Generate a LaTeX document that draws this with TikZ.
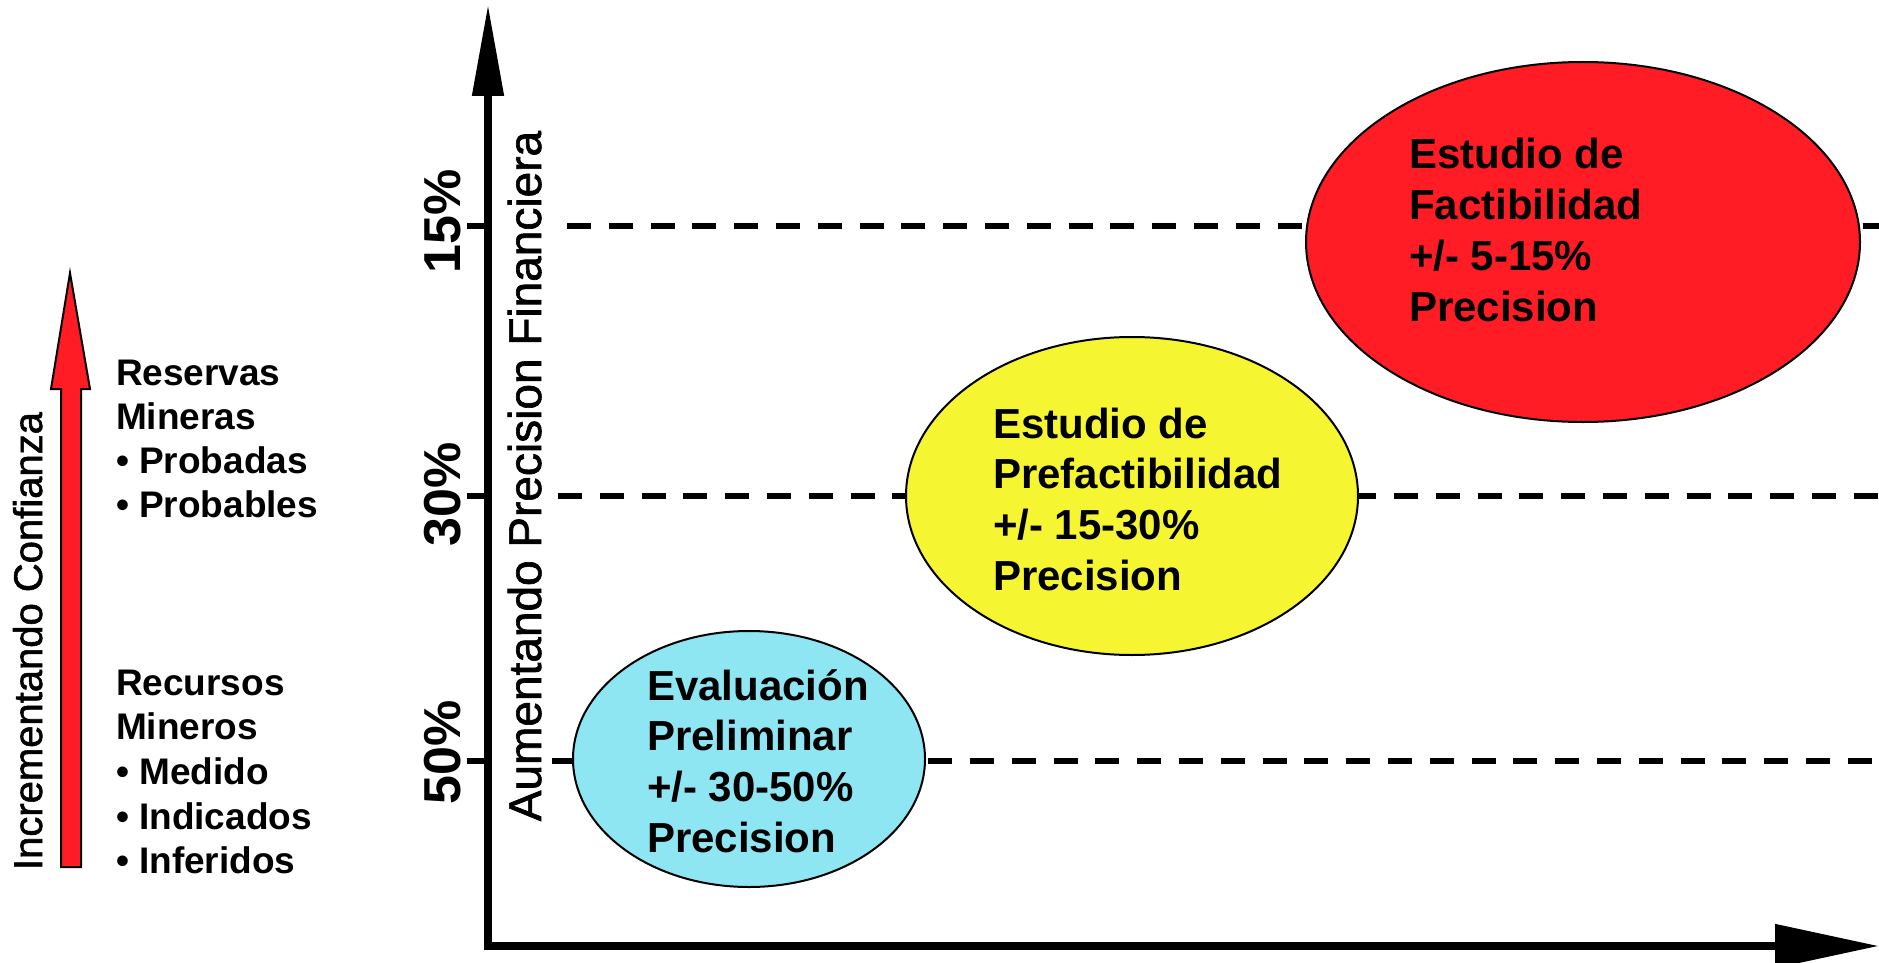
\documentclass[tikz,border=0pt]{standalone}
\usepackage{fontspec}
\setmainfont{Liberation Sans}
\newfontfamily\medsans[FakeBold=1.4]{Liberation Sans}
\usetikzlibrary{arrows.meta,shapes.geometric}
\definecolor{cred}{HTML}{FF1C24}
\definecolor{cyel}{HTML}{F5F532}
\definecolor{ccyan}{HTML}{8DE6F2}
\begin{document}
\begin{tikzpicture}[x=1pt,y=-1pt,
  every node/.style={inner sep=0pt, outer sep=0pt},
  elltxt/.style={font=\fontsize{42}{50}\selectfont\bfseries, anchor=base west},
  lefttxt/.style={font=\fontsize{37}{44}\selectfont\bfseries, anchor=base west},
  stage/.style={ellipse, draw=black, line width=2pt},
  guide/.style={line width=6pt, dash pattern=on 24pt off 17.8pt},
  tickline/.style={line width=6pt},
  ticklbl/.style={font=\fontsize{52}{60}\selectfont\bfseries, rotate=90},
]
\useasboundingbox (0,0) rectangle (1879,963);

% dashed guide lines
\coordinate (g15s) at (567,226); \coordinate (g15e) at (1879,226);
\coordinate (g30s) at (558,496); \coordinate (g30e) at (1879,496);
\coordinate (g50s) at (552,761); \coordinate (g50e) at (1879,761);
\draw[guide] (g15s) -- (g15e);
\draw[guide] (g30s) -- (g30e);
\draw[guide] (g50s) -- (g50e);

% axes
\coordinate (ytop) at (488,4);
\coordinate (origin) at (488,946);
\coordinate (xend) at (1879,946);
\draw[line width=8pt, {Triangle[length=92pt,width=30pt]}-{Triangle[length=104pt,width=42pt]}] (ytop) -- (origin) -- (xend);

% ticks
\coordinate (t15) at (467,226); \coordinate (a15) at (488,226);
\coordinate (t30) at (467,496); \coordinate (a30) at (488,496);
\coordinate (t50) at (467,761); \coordinate (a50) at (488,761);
\draw[tickline] (t15) -- (a15);
\draw[tickline] (t30) -- (a30);
\draw[tickline] (t50) -- (a50);

\node[ticklbl] (l15) at (443,221) {15\%};
\node[ticklbl] (l30) at (443,494) {30\%};
\node[ticklbl] (l50) at (443,752) {50\%};

\node[font=\fontsize{46}{50}\selectfont\medsans, rotate=90, anchor=base] (ylabel) at (541,476) {Aumentando Precision Financiera};

% ellipses
\node[stage, fill=ccyan, minimum width=352pt, minimum height=256pt] (prelim) at (749,759) {};
\node[stage, fill=cyel, minimum width=452pt, minimum height=318pt] (prefact) at (1132,496) {};
\node[stage, fill=cred, minimum width=554pt, minimum height=360pt] (fact) at (1583,242) {};

\foreach \t [count=\i from 0] in {Evaluación, Preliminar, +/- 30-50\%, Precision}
  \node[elltxt] (pt\i) at (647,{700+\i*50.7}) {\t};
\foreach \t [count=\i from 0] in {Estudio de, Prefactibilidad, +/- 15-30\%, Precision}
  \node[elltxt] (yt\i) at (993,{438+\i*50.7}) {\t};
\foreach \t [count=\i from 0] in {Estudio de, Factibilidad, +/- 5-15\%, Precision}
  \node[elltxt] (rt\i) at (1409,{168+\i*51.2}) {\t};

% left confidence arrow
\draw[fill=cred, draw=black, line width=2pt] (61,867) -- (81,867) -- (81,389) -- (90,389) -- (70,273) -- (51,389) -- (61,389) -- cycle;
\node[font=\fontsize{40}{44}\selectfont\medsans, rotate=90, anchor=base] (conf) at (42,641) {Incrementando Confianza};

\foreach \t [count=\i from 0] in {Reservas, Mineras, \textbullet\ Probadas, \textbullet\ Probables}
  \node[lefttxt] (res\i) at (116,{385+\i*44.3}) {\t};
\foreach \t [count=\i from 0] in {Recursos, Mineros, \textbullet\ Medido, \textbullet\ Indicados, \textbullet\ Inferidos}
  \node[lefttxt] (rec\i) at (116,{695+\i*44.7}) {\t};
\end{tikzpicture}
\end{document}
